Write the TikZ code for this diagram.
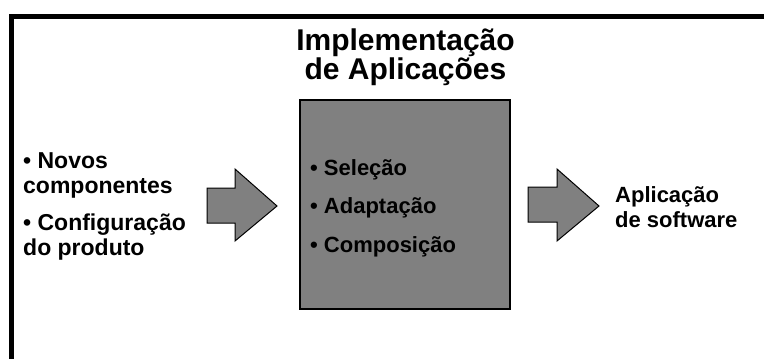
\documentclass[tikz,border=0pt]{standalone}
\usepackage{fontspec}
\setmainfont{Liberation Sans}
\definecolor{boxgray}{HTML}{808080}
\begin{document}
\begin{tikzpicture}[x=1pt, y=-1pt,
    every node/.style={inner sep=0pt, font=\bfseries\fontsize{22}{25}\selectfont},
    sidetext/.style={font=\bfseries\fontsize{23}{25}\selectfont},
    titletext/.style={align=center, font=\bfseries\fontsize{30}{26}\selectfont},
    blockarrow/.style={draw=black, fill=boxgray, line width=1pt, line join=miter}
]
    \useasboundingbox (0,0) rectangle (764,359);

    % frame
    \draw[line width=5pt] (11.5,359) -- (11.5,16.5) -- (764,16.5);

    \node[titletext, anchor=north] (title) at (405.5,29) {Implementação\\de Aplicações};

    \node[draw,
        line width=2pt,
        fill=boxgray,
        minimum width=210pt,
        minimum height=209pt
    ] (box) at (405,204.5){};

    % inputs
    \node[sidetext, anchor=base west] (novos) at (23,168) {• Novos};
    \node[sidetext, anchor=base west] (comp) at (23,193) {componentes};
    \node[sidetext, anchor=base west] (config) at (23,230) {• Configuração};
    \node[sidetext, anchor=base west] (prod) at (23,255) {do produto};

    % activities
    \node[anchor=base west] (sel) at (310,175) {• Seleção};
    \node[anchor=base west] (adapt) at (310,213) {• Adaptação};
    \node[anchor=base west] (compos) at (310,252) {• Composição};

    % output
    \node[anchor=base west] (app) at (615,202) {Aplicação};
    \node[anchor=base west] (soft) at (615,227) {de software};

    \draw[blockarrow] (207,188) -- (235,188) -- (235,169) -- (277,206)
        -- (235,241) -- (235,223) -- (207,223) -- cycle;
    \draw[blockarrow] (528,187) -- (557,187) -- (557,169) -- (599,206)
        -- (557,241) -- (557,222) -- (528,222) -- cycle;

\end{tikzpicture}
\end{document}
